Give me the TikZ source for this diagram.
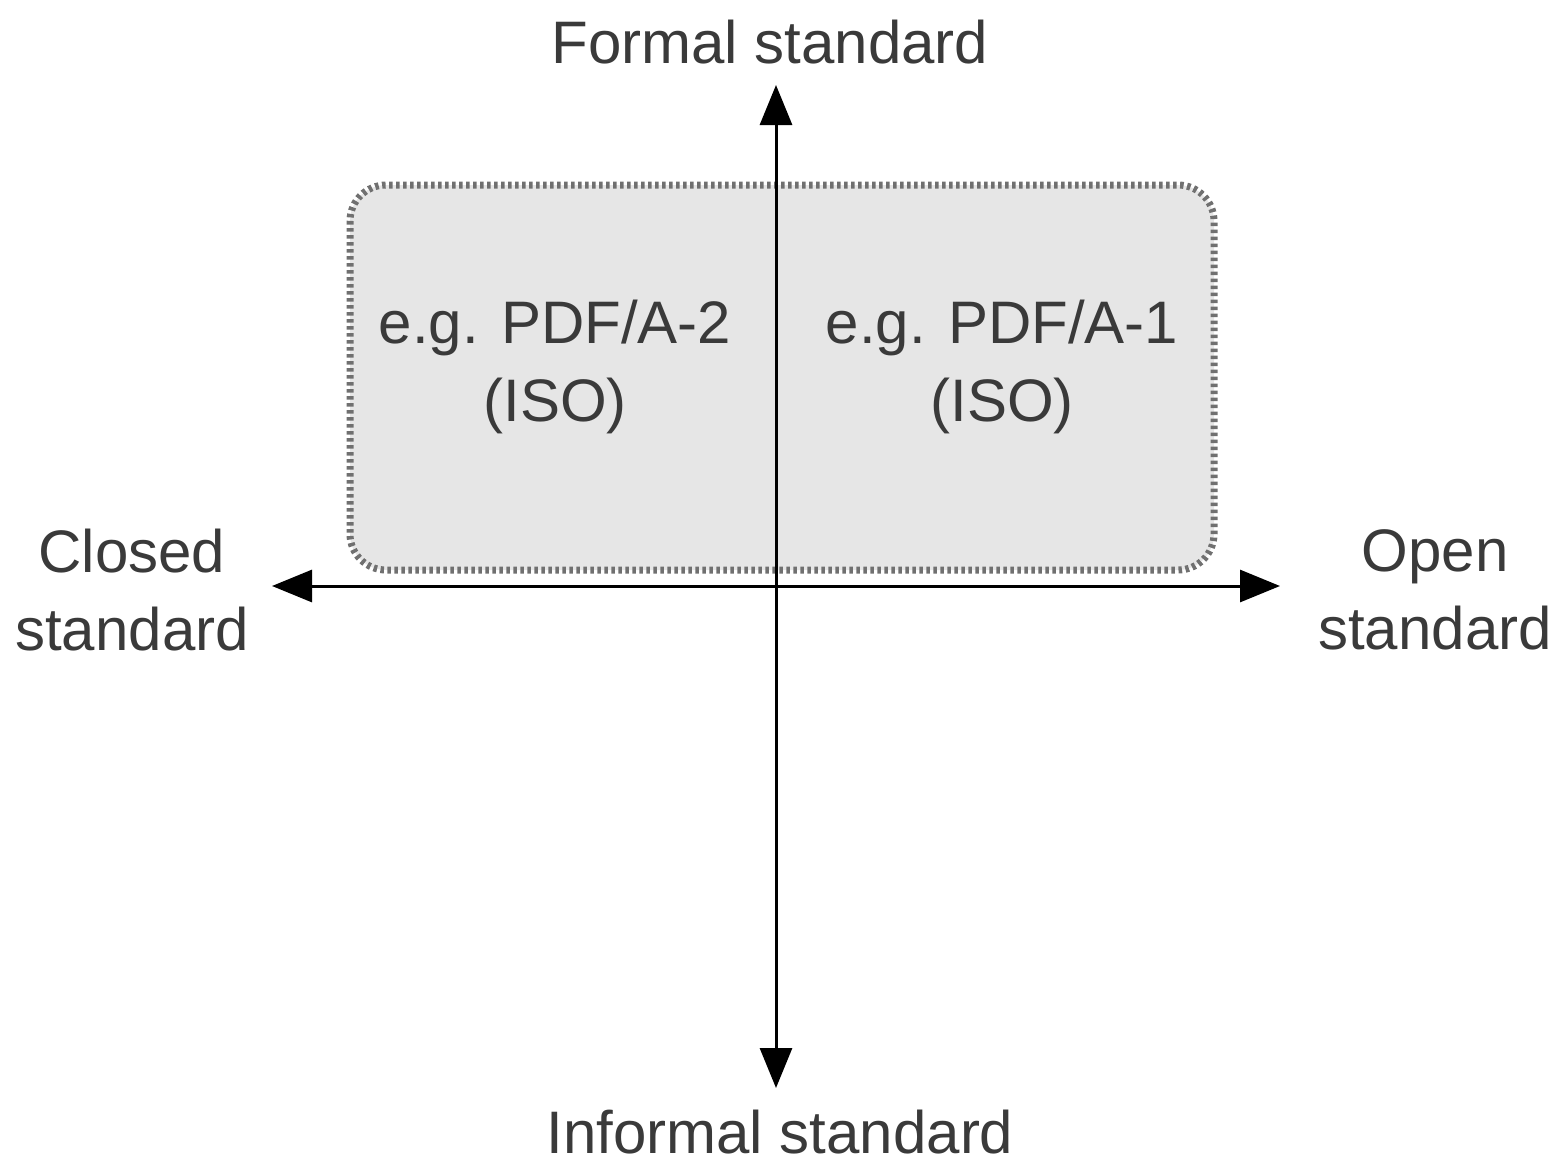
\documentclass[tikz,border=0pt]{standalone}
\usepackage{fontspec}
\setmainfont{Liberation Sans}
\usetikzlibrary{arrows.meta}
\definecolor{txt}{HTML}{3A3A3A}
\definecolor{boxfill}{HTML}{E6E6E6}
\definecolor{boxline}{HTML}{707070}
\tikzset{
  lbl/.style={text=txt, font=\fontsize{60}{78}\selectfont, align=center, inner sep=0pt},
  axis/.style={line width=3pt, black, -{Triangle[length=40pt,width=32pt]}},
  region/.style={fill=boxfill, draw=boxline, line width=7pt, dash pattern=on 3.5pt off 3.5pt, rounded corners=36pt}
}
\begin{document}
\begin{tikzpicture}[x=1pt,y=-1pt]
\useasboundingbox (0,0) rectangle (1556,1165);
\draw[region] (350,185) rectangle (1214,570);
\coordinate (c) at (776,586);
\coordinate (top) at (776,85);
\coordinate (bot) at (776,1088);
\coordinate (lft) at (272,586);
\coordinate (rgt) at (1280,586);
\draw[axis] (c) -- (top);
\draw[axis] (c) -- (bot);
\draw[axis] (c) -- (lft);
\draw[axis] (c) -- (rgt);
\node[lbl] (formal) at (770,42) {Formal standard};
\node[lbl] (informal) at (780,1132) {Informal standard};
\node[lbl] (closed) at (132,590) {Closed\\standard};
\node[lbl] (open) at (1435,590) {Open\\standard};
\node[lbl] (a2) at (555,367) {e.g. PDF/A-2\\(ISO)};
\node[lbl] (a1) at (1002,367) {e.g. PDF/A-1\\(ISO)};
\end{tikzpicture}
\end{document}
